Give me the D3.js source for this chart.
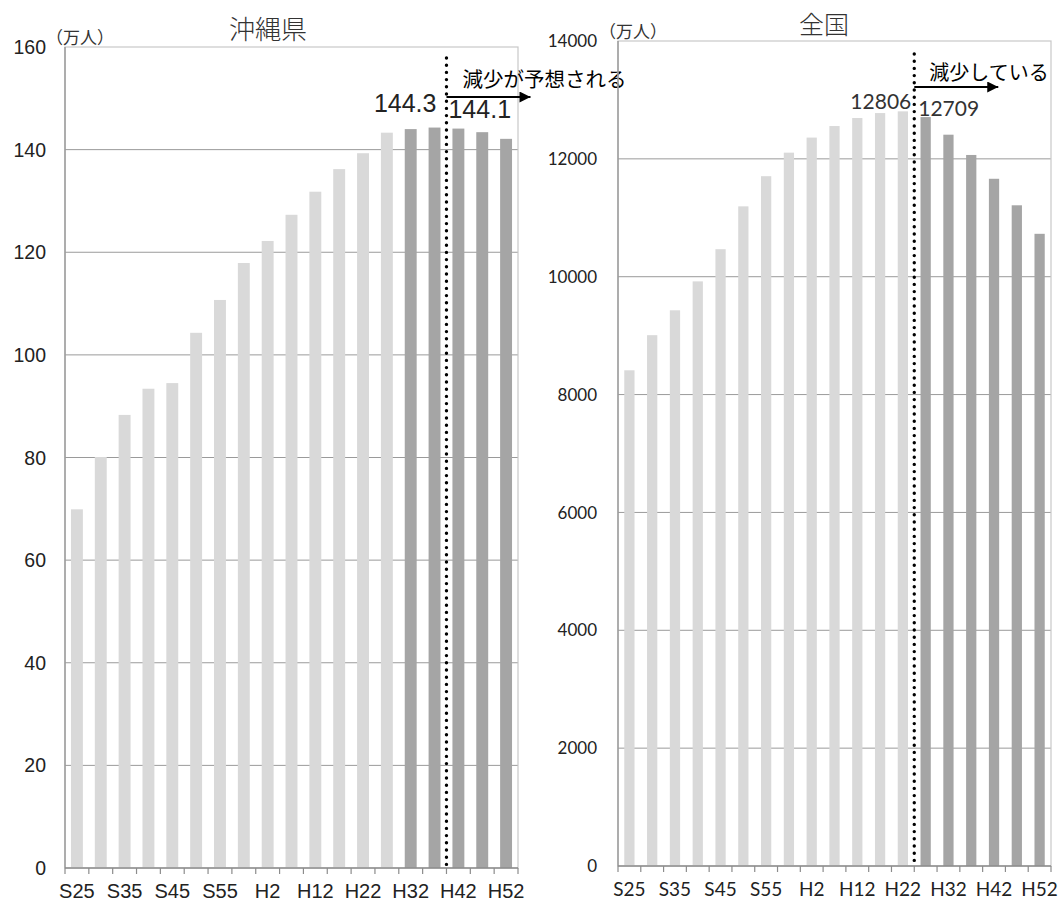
<!DOCTYPE html>
<html><head><meta charset="utf-8">
<script src="https://cdn.jsdelivr.net/npm/d3@7"></script>
<style>
body{margin:0;background:#fff;}
svg{display:block;}
</style></head>
<body>
<svg id="chart" width="1059" height="901"></svg>
<script>
// ---- data ----
const categories = ["S25","S30","S35","S40","S45","S50","S55","S60","H2","H7","H12","H17","H22","H27","H32","H37","H42","H47","H52"];
const xTickLabels = ["S25","S35","S45","S55","H2","H12","H22","H32","H42","H52"];
const okinawaValues = [69.9,80.1,88.3,93.4,94.5,104.3,110.7,117.9,122.2,127.3,131.8,136.2,139.3,143.3,144.0,144.3,144.1,143.4,142.1];
const japanValues = [8412,9008,9430,9921,10467,11194,11706,12105,12361,12557,12693,12777,12806,12709,12410,12066,11662,11212,10728];
const okinawaTicks = [0,20,40,60,80,100,120,140,160];
const japanTicks = [0,2000,4000,6000,8000,10000,12000,14000];
const okinawaProjectionStart = "H32";
const okinawaSplitAt = "H42";
const japanProjectionStart = "H27";
const japanSplitAt = "H27";
const okinawaTitle = "沖縄県", japanTitle = "全国", unitLabel = "（万人）";
const okinawaNote = "減少が予想される", japanNote = "減少している";
const okinawaLabels = [{cat:"H37", text:"144.3", side:"left"},{cat:"H42", text:"144.1", side:"right"}];
const japanLabels = [{cat:"H22", text:"12806", side:"left"},{cat:"H27", text:"12709", side:"right"}];

const svg = d3.select("#chart");
const defs = svg.append("defs");
defs.append("marker").attr("id","arrow").attr("viewBox","0 0 10 10")
  .attr("refX",10).attr("refY",5).attr("markerWidth",16).attr("markerHeight",11)
  .attr("markerUnits","userSpaceOnUse").attr("orient","auto")
  .append("path").attr("d","M0,0L10,5L0,10Z").attr("fill","#000");

const CJK = "'Noto Sans CJK JP', sans-serif";

function drawChart(cfg){
  const g = svg.append("g");
  const x = d3.scaleBand().domain(categories).range([cfg.x0, cfg.x1]).paddingInner(cfg.pad).paddingOuter(cfg.pad/2);
  const y = d3.scaleLinear().domain([0, cfg.max]).range([cfg.y1, cfg.y0]);
  const step = x.step();

  // gridlines
  g.append("g").selectAll("line").data(cfg.ticks.filter(t=>t>0 && t<cfg.max)).join("line")
    .attr("x1",cfg.x0).attr("x2",cfg.x1).attr("y1",d=>y(d)).attr("y2",d=>y(d))
    .attr("stroke","#9a9a9a").attr("stroke-width",1);
  // border
  g.append("rect").attr("x",cfg.x0).attr("y",y(cfg.max)).attr("width",cfg.x1-cfg.x0).attr("height",cfg.y1-y(cfg.max))
    .attr("fill","none").attr("stroke","#c8c8c8").attr("stroke-width",1.2);

  // bars
  const projIdx = categories.indexOf(cfg.projStart);
  g.append("g").selectAll("rect").data(cfg.values).join("rect")
    .attr("x",(d,i)=>x(categories[i])).attr("width",x.bandwidth())
    .attr("y",d=>y(d)).attr("height",d=>y(0)-y(d))
    .attr("fill",(d,i)=> i>=projIdx ? cfg.dark : cfg.light);

  // y axis line
  g.append("line").attr("x1",cfg.x0).attr("x2",cfg.x0).attr("y1",y(cfg.max)).attr("y2",cfg.y1)
    .attr("stroke","#8c8c8c").attr("stroke-width",1.2);
  // x axis line
  g.append("line").attr("x1",cfg.x0).attr("x2",cfg.x1).attr("y1",cfg.y1).attr("y2",cfg.y1)
    .attr("stroke","#8c8c8c").attr("stroke-width",1.5);
  // x tick marks at band boundaries
  g.append("g").selectAll("line").data(d3.range(categories.length+1)).join("line")
    .attr("x1",i=>cfg.x0 + i*step).attr("x2",i=>cfg.x0 + i*step)
    .attr("y1",cfg.y1).attr("y2",cfg.y1+6).attr("stroke","#8c8c8c").attr("stroke-width",1.2);

  // y tick labels
  g.append("g").selectAll("text").data(cfg.ticks).join("text")
    .attr("x",cfg.x0-cfg.ylabGap).attr("y",d=>y(d)).attr("dy","0.36em")
    .attr("text-anchor","end").attr("font-family",cfg.font).attr("font-size",cfg.yFont)
    .attr("fill","#222").text(d=>d);
  // x tick labels
  g.append("g").selectAll("text").data(xTickLabels).join("text")
    .attr("x",d=>x(d)+x.bandwidth()/2).attr("y",cfg.y1+cfg.xlabDy)
    .attr("text-anchor","middle").attr("font-family",cfg.font).attr("font-size",cfg.xFont)
    .attr("fill","#222").text(d=>d);

  // unit label
  g.append("text").attr("x",cfg.x0-cfg.unitDx).attr("y",y(cfg.max)-3).attr("font-family",CJK)
    .attr("font-size",17).attr("fill","#333").text(unitLabel);
  // title
  g.append("text").attr("x",cfg.titleX).attr("y",cfg.titleY).attr("text-anchor","middle")
    .attr("font-family",CJK).attr("font-size",cfg.titleFont).attr("font-weight",300).attr("fill","#333").text(cfg.title);

  // dotted split line
  const splitX = x(cfg.splitAt) - step*cfg.pad/2;
  g.append("line").attr("x1",splitX).attr("x2",splitX).attr("y1",cfg.dotTop).attr("y2",cfg.y1)
    .attr("stroke","#000").attr("stroke-width",3.4).attr("stroke-linecap","round").attr("stroke-dasharray","0 7.2");

  // value labels
  cfg.labels.forEach(l=>{
    g.append("text").attr("x", l.side==="left" ? splitX-cfg.lblGapL : splitX+cfg.lblGapR)
      .attr("y", l.side==="left" ? cfg.lblYL : cfg.lblYR)
      .attr("text-anchor", l.side==="left" ? "end" : "start")
      .attr("font-family",cfg.font).attr("font-size",cfg.lblFont).attr("fill",cfg.lblColor).text(l.text);
  });

  // arrow + note
  g.append("line").attr("x1",splitX).attr("x2",splitX+cfg.arrowLen).attr("y1",cfg.arrowY).attr("y2",cfg.arrowY)
    .attr("stroke","#000").attr("stroke-width",2).attr("marker-end","url(#arrow)");
  g.append("text").attr("x",splitX+cfg.noteDx).attr("y",cfg.noteY).attr("font-family",CJK)
    .attr("font-size",cfg.noteFont).attr("fill","#000").text(cfg.note);
}

drawChart({
  x0:65, x1:518, y0:47, y1:868, max:160, ticks:okinawaTicks, values:okinawaValues, pad:0.5,
  light:"#d9d9d9", dark:"#a5a5a5", projStart:okinawaProjectionStart, splitAt:okinawaSplitAt,
  font:"'Liberation Sans', Arial, sans-serif", yFont:19.5, xFont:20, ylabGap:19, xlabDy:30,
  unitDx:19, title:okinawaTitle, titleFont:26, titleX:268, titleY:39, dotTop:58,
  labels:okinawaLabels, lblGapL:10, lblGapR:2, lblYL:112, lblYR:118, lblFont:25, lblColor:"#222",
  arrowLen:84, arrowY:97, noteDx:16, noteY:87, noteFont:20.5, note:okinawaNote
});
drawChart({
  x0:618, x1:1051, y0:41, y1:866, max:14000, ticks:japanTicks, values:japanValues, pad:0.55,
  light:"#d9d9d9", dark:"#a5a5a5", projStart:japanProjectionStart, splitAt:japanSplitAt,
  font:"Lato, 'Open Sans', sans-serif", yFont:17, xFont:19, ylabGap:21, xlabDy:30,
  unitDx:19, title:japanTitle, titleFont:25, titleX:824, titleY:34, dotTop:54,
  labels:japanLabels, lblGapL:3, lblGapR:4, lblYL:109, lblYR:116, lblFont:21, lblColor:"#333",
  arrowLen:84, arrowY:87, noteDx:15, noteY:80, noteFont:20, note:japanNote
});
</script>
</body></html>
